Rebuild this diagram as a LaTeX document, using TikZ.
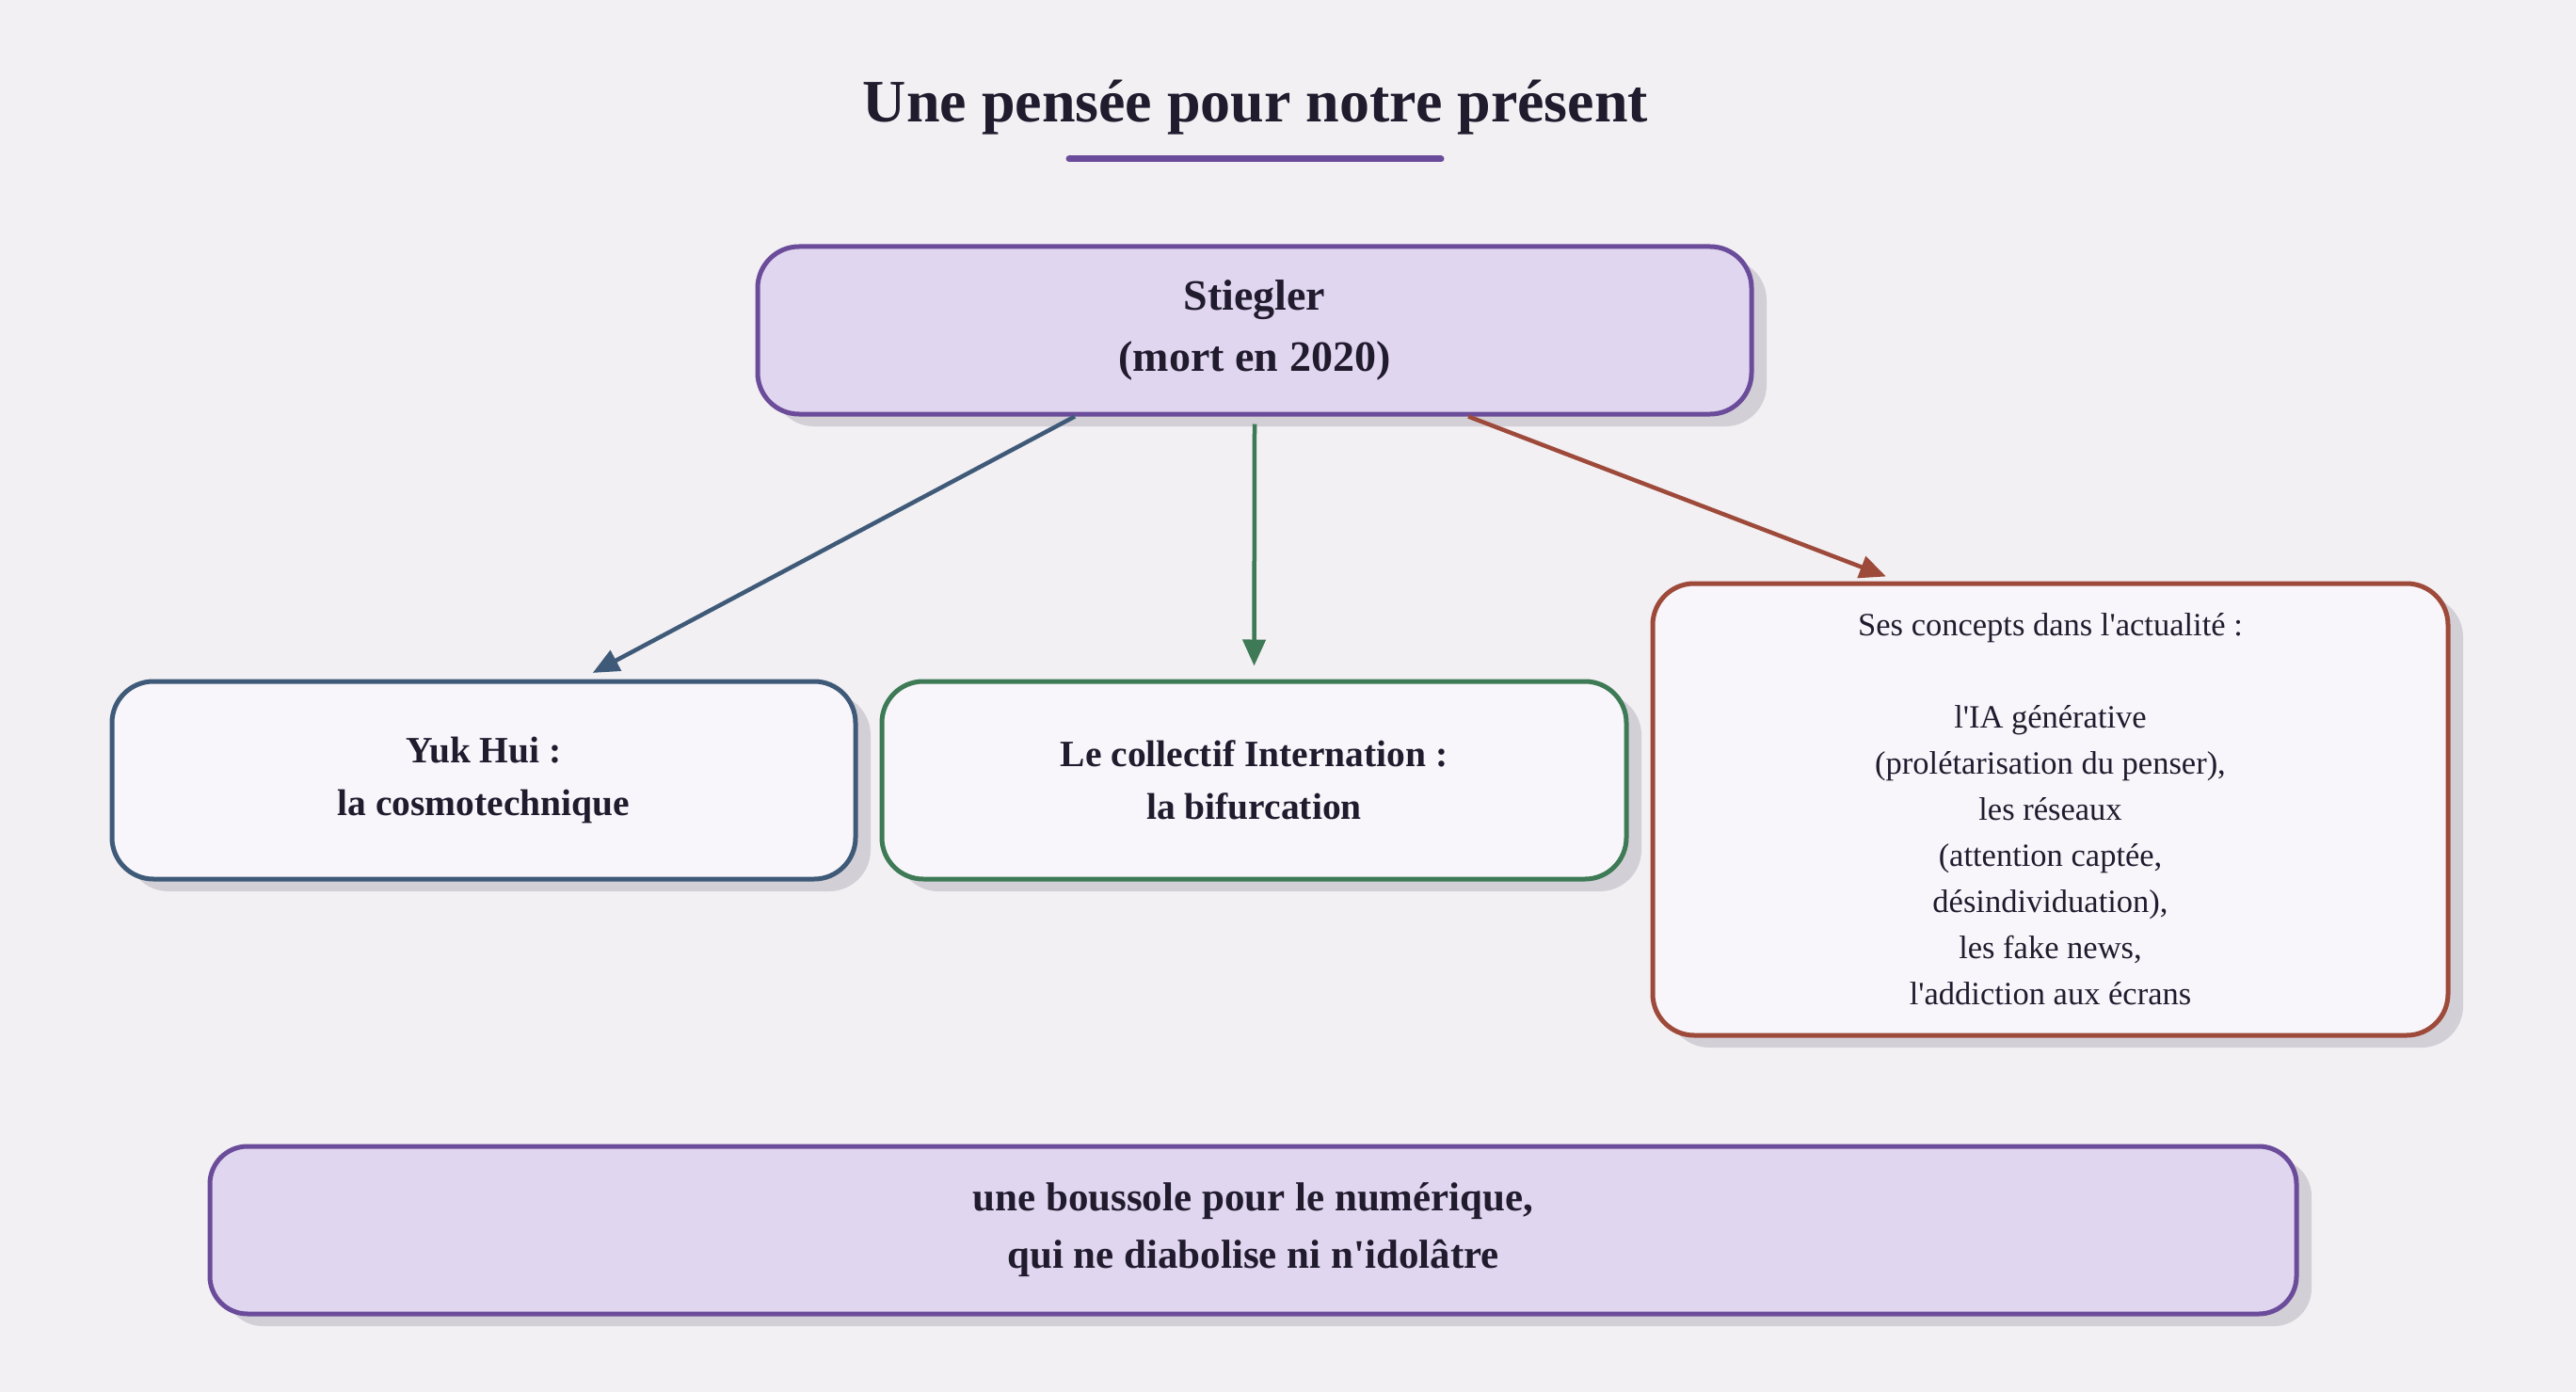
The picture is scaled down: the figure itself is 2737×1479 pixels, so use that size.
\documentclass[tikz,border=0pt]{standalone}
\usepackage{fontspec}
\setmainfont{Liberation Serif}[Ligatures=TeXOff]
\usetikzlibrary{shadows,arrows.meta,calc}
\definecolor{bgc}{HTML}{F2F0F3}
\definecolor{ink}{HTML}{211B2E}
\definecolor{purp}{HTML}{6B4C9A}
\definecolor{lilac}{HTML}{E0D6EF}
\definecolor{paper}{HTML}{F8F6FA}
\definecolor{bluec}{HTML}{3F5A78}
\definecolor{greenc}{HTML}{3D7A55}
\definecolor{redc}{HTML}{9E4A3A}
\definecolor{shade}{HTML}{D3CFD6}
\tikzset{
  box/.style={draw, line width=5pt, rounded corners=44pt, align=center, text=ink,
    inner sep=0pt,
    drop shadow={shadow xshift=16pt, shadow yshift=-13pt, fill=shade, opacity=1}},
  conn/.style={line width=4.5pt, -{Triangle[length=28pt,width=24pt]}, shorten >=14pt}
}
\begin{document}
\begin{tikzpicture}[x=1pt,y=-1pt]
\fill[bgc] (0,0) rectangle (2737,1479);
\useasboundingbox (0,0) rectangle (2737,1479);
\node[text=ink, font=\fontsize{64}{74}\selectfont\bfseries] (title) at (1334,114) {Une pensée pour notre présent};
\draw[purp, line width=7pt, line cap=round] (1136,169) -- (1531,169);

\node[box, draw=purp, fill=lilac, minimum width=1056pt, minimum height=178pt,
  font=\fontsize{46}{65}\selectfont\bfseries] (stiegler) at (1333,351) {Stiegler\\(mort en 2020)};

\node[box, draw=bluec, fill=paper, minimum width=790pt, minimum height=210pt,
  font=\fontsize{39.5}{56}\selectfont\bfseries] (yuk) at (514,829) {Yuk Hui :\\la cosmotechnique};

\node[box, draw=greenc, fill=paper, minimum width=791pt, minimum height=210pt,
  font=\fontsize{39.5}{56}\selectfont\bfseries] (coll) at (1332.5,829) {Le collectif Internation :\\la bifurcation};

\node[box, draw=redc, fill=paper, minimum width=845pt, minimum height=480pt,
  font=\fontsize{34.5}{49}\selectfont] (concepts) at (2178.5,860)
  {Ses concepts dans l'actualité :\\[49pt]l'IA générative\\(prolétarisation du penser),\\les réseaux\\(attention captée,\\désindividuation),\\les fake news,\\l'addiction aux écrans};

\node[box, draw=purp, fill=lilac, minimum width=2217pt, minimum height=178pt, rounded corners=40pt,
  font=\fontsize{43}{61}\selectfont\bfseries] (compass) at (1331.5,1307) {une boussole pour le numérique,\\qui ne diabolise ni n'idolâtre};

\draw[conn, bluec] ($(stiegler.south west)!0.32!(stiegler.south east)$) -- ($(yuk.north west)!0.63!(yuk.north east)$);
\draw[conn, greenc] ($(stiegler.south)+(0,8)$) -- (coll.north);
\draw[conn, redc] ($(stiegler.south west)!0.714!(stiegler.south east)$) -- ($(concepts.north west)!0.31!(concepts.north east)$);
\end{tikzpicture}
\end{document}
